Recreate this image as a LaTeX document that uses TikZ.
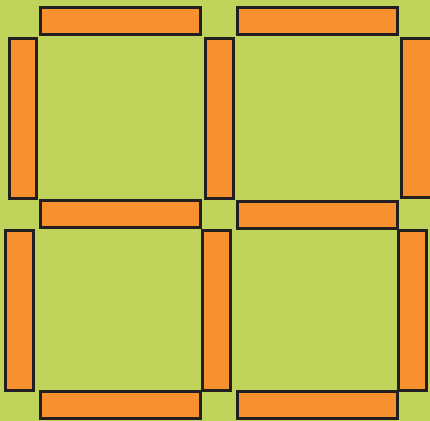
\documentclass[tikz,border=0pt]{standalone}
\definecolor{bggreen}{RGB}{192,211,90}
\definecolor{barorange}{RGB}{247,145,48}
\definecolor{barline}{RGB}{35,31,32}
\begin{document}
\begin{tikzpicture}[x=0.75pt,y=-0.75pt,
  bar/.style={fill=barorange,draw=barline,line width=2.2pt}]
\fill[bggreen] (0,0) rectangle (430,421);
\useasboundingbox (0,0) rectangle (430,421);
\begin{scope}
\clip (0,0) rectangle (430,421);
% horizontal bars
\draw[bar] (40.5,7.5) rectangle (200.5,34.5);
\draw[bar] (237.5,7.5) rectangle (397.5,34.5);
\draw[bar] (40.5,200.5) rectangle (200.5,227.5);
\draw[bar] (237.5,201.5) rectangle (397.5,228.5);
\draw[bar] (40.5,391.5) rectangle (200.5,418.5);
\draw[bar] (237.5,391.5) rectangle (397.5,418.5);
% vertical bars
\draw[bar] (9.5,38.5) rectangle (36.5,198.5);
\draw[bar] (205.5,38.5) rectangle (233.5,198.5);
\draw[bar] (401.5,38.5) rectangle (433,197.5);
\draw[bar] (5.5,230.5) rectangle (33.5,390.5);
\draw[bar] (202.5,230.5) rectangle (230.5,390.5);
\draw[bar] (398.5,230.5) rectangle (426.5,390.5);
\end{scope}
\end{tikzpicture}
\end{document}
